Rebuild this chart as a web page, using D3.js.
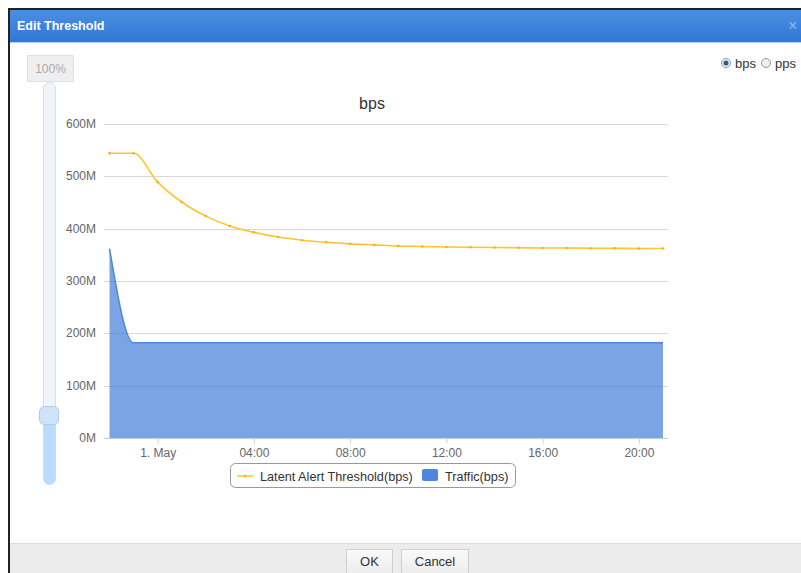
<!DOCTYPE html>
<html>
<head>
<meta charset="utf-8">
<script src="https://cdn.jsdelivr.net/npm/d3@7"></script>
<style>
  body { margin: 0; background: #fff; }
  svg { display: block; font-family: Arial, "Liberation Sans", sans-serif; }
</style>
</head>
<body>
<div id="chart"></div>
<script>
// hourly samples, Apr 30 22:00 -> May 1 21:00
var times = [
  "2021-04-30T22:00Z", "2021-04-30T23:00Z", "2021-05-01T00:00Z", "2021-05-01T01:00Z",
  "2021-05-01T02:00Z", "2021-05-01T03:00Z", "2021-05-01T04:00Z", "2021-05-01T05:00Z",
  "2021-05-01T06:00Z", "2021-05-01T07:00Z", "2021-05-01T08:00Z", "2021-05-01T09:00Z",
  "2021-05-01T10:00Z", "2021-05-01T11:00Z", "2021-05-01T12:00Z", "2021-05-01T13:00Z",
  "2021-05-01T14:00Z", "2021-05-01T15:00Z", "2021-05-01T16:00Z", "2021-05-01T17:00Z",
  "2021-05-01T18:00Z", "2021-05-01T19:00Z", "2021-05-01T20:00Z", "2021-05-01T21:00Z"
];
// values in Mbps
var threshold = [544, 544, 489, 451, 424, 405, 393, 384, 378, 374, 371, 369,
                 367, 366, 365, 364.5, 364, 363.5, 363, 363, 362.5, 362.5, 362, 362];
var traffic = [362, 182, 182, 182, 182, 182, 182, 182, 182, 182, 182, 182,
               182, 182, 182, 182, 182, 182, 182, 182, 182, 182, 182, 182];
var yTicks = [0, 100, 200, 300, 400, 500, 600];
var seriesNames = ["Latent Alert Threshold(bps)", "Traffic(bps)"];

var width = 801, height = 573;
var svg = d3.select('#chart').append('svg')
  .attr('width', width).attr('height', height);

var defs = svg.append('defs');
var hg = defs.append('linearGradient').attr('id', 'hdr').attr('x1', 0).attr('y1', 0).attr('x2', 0).attr('y2', 1);
hg.append('stop').attr('offset', '0%').attr('stop-color', '#4b8fe1');
hg.append('stop').attr('offset', '100%').attr('stop-color', '#2e79d6');
var bg = defs.append('linearGradient').attr('id', 'btn').attr('x1', 0).attr('y1', 0).attr('x2', 0).attr('y2', 1);
bg.append('stop').attr('offset', '0%').attr('stop-color', '#fafafa');
bg.append('stop').attr('offset', '100%').attr('stop-color', '#eaeaea');

// dialog frame
svg.append('rect').attr('x', 8).attr('y', 8).attr('width', 800).attr('height', 570).attr('fill', '#222');
svg.append('rect').attr('x', 10).attr('y', 10).attr('width', 800).attr('height', 570).attr('fill', '#fff');
svg.append('rect').attr('x', 10).attr('y', 10).attr('width', 800).attr('height', 32).attr('fill', 'url(#hdr)');
svg.append('rect').attr('x', 10).attr('y', 42).attr('width', 800).attr('height', 1).attr('fill', '#b5cfee');
svg.append('text').attr('x', 17).attr('y', 30).attr('fill', '#fff')
  .attr('font-size', 12.5).attr('font-weight', 'bold').text('Edit Threshold');
svg.append('text').attr('x', 788).attr('y', 31).attr('fill', '#8fb8ea')
  .attr('font-size', 16).text('×');

// footer
svg.append('rect').attr('x', 10).attr('y', 543).attr('width', 800).attr('height', 40).attr('fill', '#ececec');
svg.append('rect').attr('x', 10).attr('y', 543).attr('width', 800).attr('height', 1).attr('fill', '#dcdcdc');
[['OK', 346, 46], ['Cancel', 401, 67]].forEach(function (b) {
  svg.append('rect').attr('x', b[1] + 0.5).attr('y', 549.5).attr('width', b[2]).attr('height', 28)
    .attr('fill', 'url(#btn)').attr('stroke', '#cfcfcf');
  svg.append('text').attr('x', b[1] + b[2] / 2 + 0.5).attr('y', 566).attr('text-anchor', 'middle')
    .attr('font-size', 13).attr('fill', '#333').text(b[0]);
});

// radio buttons
function radio(x, checked) {
  svg.append('circle').attr('cx', x).attr('cy', 63).attr('r', 4.5)
    .attr('fill', checked ? '#e8eef5' : '#eee').attr('stroke', '#999');
  if (checked) svg.append('circle').attr('cx', x).attr('cy', 63).attr('r', 2.5).attr('fill', '#1f5f9e');
}
radio(726, true);
svg.append('text').attr('x', 735).attr('y', 68).attr('font-size', 13).attr('fill', '#333').text('bps');
radio(766, false);
svg.append('text').attr('x', 775).attr('y', 68).attr('font-size', 13).attr('fill', '#333').text('pps');

// slider
svg.append('rect').attr('x', 27.5).attr('y', 55.5).attr('width', 46).attr('height', 26)
  .attr('fill', '#efefef').attr('stroke', '#e0e0e0');
svg.append('text').attr('x', 50.5).attr('y', 73).attr('text-anchor', 'middle')
  .attr('font-size', 12).attr('fill', '#aaa').text('100%');
svg.append('rect').attr('x', 43.5).attr('y', 82.5).attr('width', 12).attr('height', 402).attr('rx', 6)
  .attr('fill', '#f1f4f8').attr('stroke', '#d9dde2');
svg.append('rect').attr('x', 43.5).attr('y', 410).attr('width', 12).attr('height', 74.5).attr('rx', 6)
  .attr('fill', '#bcdcfb');
svg.append('rect').attr('x', 39.5).attr('y', 406.5).attr('width', 19).attr('height', 18).attr('rx', 5)
  .attr('fill', '#cde4f9').attr('stroke', '#a9cdee');

// chart
var parse = d3.utcParse('%Y-%m-%dT%H:%MZ');
var data = times.map(function (t, i) {
  return { t: parse(t), thr: threshold[i], tr: traffic[i] };
});

var x = d3.scaleUtc().domain(d3.extent(data, function (d) { return d.t; })).range([109.5, 663]);
var y = d3.scaleLinear().domain([0, 600]).range([438, 124]);

svg.append('text').attr('x', 372).attr('y', 109).attr('text-anchor', 'middle')
  .attr('font-size', 16).attr('fill', '#333').text('bps');

// grid + y labels
var grid = svg.append('g');
grid.selectAll('line').data(yTicks.slice(1)).enter().append('line')
  .attr('x1', 104).attr('x2', 668)
  .attr('y1', function (d) { return Math.round(y(d)) + 0.5; })
  .attr('y2', function (d) { return Math.round(y(d)) + 0.5; })
  .attr('stroke', '#d8d8d8');
svg.append('g').selectAll('text').data(yTicks).enter().append('text')
  .attr('x', 96).attr('y', function (d) { return y(d) + 4; })
  .attr('text-anchor', 'end').attr('font-size', 12).attr('fill', '#666')
  .text(function (d) { return d + 'M'; });

// traffic area
var area = d3.area().curve(d3.curveMonotoneX)
  .x(function (d) { return x(d.t); })
  .y0(y(0)).y1(function (d) { return y(d.tr); });
svg.append('path').datum(data).attr('d', area)
  .attr('fill', '#4f86dc').attr('fill-opacity', 0.75);
svg.append('path').datum(data)
  .attr('d', d3.line().curve(d3.curveMonotoneX).x(function (d) { return x(d.t); }).y(function (d) { return y(d.tr); }))
  .attr('fill', 'none').attr('stroke', '#4f86dc').attr('stroke-width', 1.5);

// threshold line
var line = d3.line().curve(d3.curveMonotoneX)
  .x(function (d) { return x(d.t); }).y(function (d) { return y(d.thr); });
svg.append('path').datum(data).attr('d', line)
  .attr('fill', 'none').attr('stroke', '#ffc42e').attr('stroke-width', 1.6);
svg.append('g').selectAll('circle').data(data).enter().append('circle')
  .attr('cx', function (d) { return x(d.t); }).attr('cy', function (d) { return y(d.thr); })
  .attr('r', 1.3).attr('fill', '#f5b316');

// x axis
var fmt = function (d) { return d.getUTCHours() === 0 ? d.getUTCDate() + '. May' : d3.utcFormat('%H:%M')(d); };
var xAxis = svg.append('g').attr('transform', 'translate(0,438.5)')
  .call(d3.axisBottom(x).ticks(d3.utcHour.every(4)).tickFormat(fmt).tickSize(5).tickSizeOuter(0));
xAxis.select('.domain').remove();
xAxis.insert('line', ':first-child').attr('x1', 104).attr('x2', 668).attr('stroke', '#c0d0e0');
xAxis.selectAll('.tick line').attr('stroke', '#c0d0e0');
xAxis.selectAll('.tick text').attr('font-size', 12).attr('fill', '#666')
  .attr('font-family', 'Arial, "Liberation Sans", sans-serif').attr('dy', '0.9em');

// legend
var lg = svg.append('g');
lg.append('rect').attr('x', 230.5).attr('y', 463.5).attr('width', 285).attr('height', 24).attr('rx', 5)
  .attr('fill', '#fff').attr('stroke', '#999');
lg.append('line').attr('x1', 237).attr('x2', 253).attr('y1', 476).attr('y2', 476)
  .attr('stroke', '#ffc42e').attr('stroke-width', 1.5);
lg.append('circle').attr('cx', 245).attr('cy', 476).attr('r', 1.3).attr('fill', '#f5b316');
lg.append('text').attr('x', 260).attr('y', 481).attr('font-size', 12.7).attr('fill', '#333').text(seriesNames[0]);
lg.append('rect').attr('x', 422).attr('y', 469).attr('width', 16).attr('height', 12).attr('rx', 2)
  .attr('fill', '#4f86dc');
lg.append('text').attr('x', 445).attr('y', 481).attr('font-size', 12.7).attr('fill', '#333').text(seriesNames[1]);
</script>
</body>
</html>
